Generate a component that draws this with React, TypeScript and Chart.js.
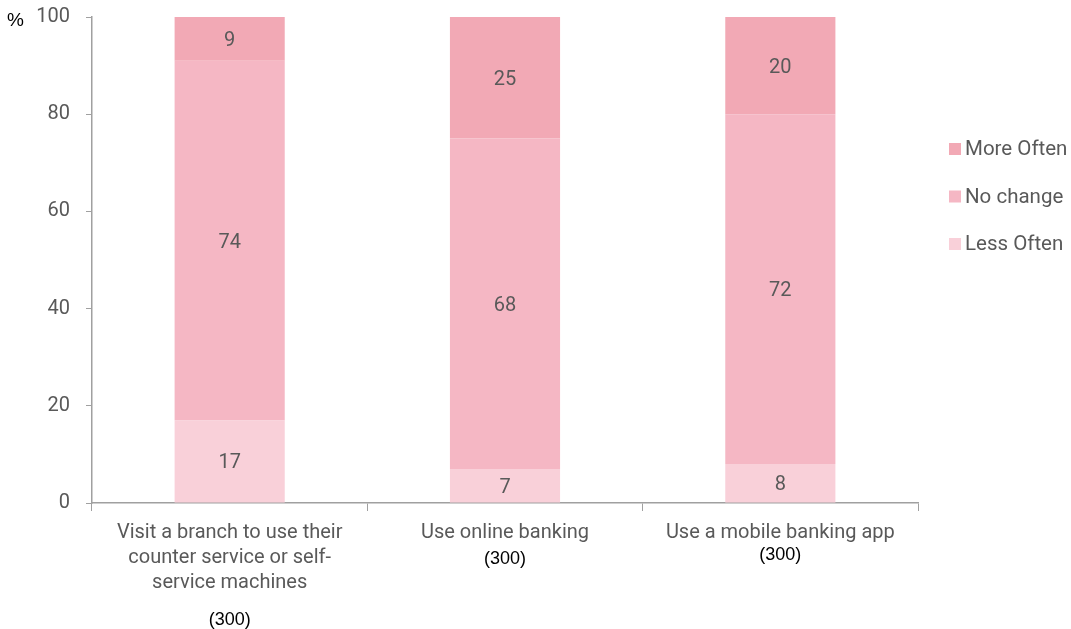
import React, { useEffect, useRef } from "react";
import { Chart, registerables } from "chart.js";

Chart.register(...registerables);

const categories: string[][] = [
  ["Visit a branch to use their", "counter service or self-", "service machines"],
  ["Use online banking"],
  ["Use a mobile banking app"],
];
const sampleSizes = ["(300)", "(300)", "(300)"];
const sampleGap = [39, 28, 24];

const lessOften = [17, 7, 8];
const noChange = [74, 68, 72];
const moreOften = [9, 25, 20];

const seriesNames = ["Less Often", "No change", "More Often"];
const seriesColors = ["#F9D0D9", "#F5B7C4", "#F2A9B5"];
const yTicks = [0, 20, 40, 60, 80, 100];

const TEXT = "#595959";
const AXIS = "#A0A0A0";
const FONT = "Roboto, 'Noto Sans', sans-serif";

export default function App() {
  const ref = useRef<HTMLCanvasElement | null>(null);

  useEffect(() => {
    if (!ref.current) return;
    const overlay = {
      id: "overlay",
      afterDatasetsDraw(chart: any) {
        const ctx = chart.ctx;
        ctx.save();
        // data labels
        ctx.font = `20px ${FONT}`;
        ctx.fillStyle = TEXT;
        ctx.textAlign = "center";
        ctx.textBaseline = "middle";
        chart.data.datasets.forEach((ds: any, di: number) => {
          const meta = chart.getDatasetMeta(di);
          meta.data.forEach((bar: any, i: number) => {
            const { x, y, base } = bar.getProps(["x", "y", "base"], true);
            ctx.fillText(String(ds.data[i]), x, (y + base) / 2 + 2);
          });
        });
        // "%" label
        ctx.fillStyle = "#000";
        ctx.textAlign = "left";
        ctx.font = `19px 'Liberation Sans', sans-serif`;
        ctx.fillText("%", 7, chart.chartArea.top + 4);
        // sample sizes
        const xs = chart.scales.x;
        ctx.font = `18px 'Liberation Sans', sans-serif`;
        ctx.textAlign = "center";
        categories.forEach((lines, i) => {
          const x = xs.getPixelForValue(i);
          const y = chart.chartArea.bottom + 28 + 25 * (lines.length - 1) + sampleGap[i];
          ctx.fillText(sampleSizes[i], x, y);
        });
        // legend
        ctx.font = `20.5px ${FONT}`;
        ctx.textAlign = "left";
        const lx = chart.chartArea.right + 31;
        const order = [2, 1, 0];
        order.forEach((si, k) => {
          const cy = chart.chartArea.top + 133 + k * 47.5;
          ctx.fillStyle = seriesColors[si];
          ctx.fillRect(lx, cy - 7, 12, 12);
          ctx.fillStyle = TEXT;
          ctx.fillText(seriesNames[si], lx + 16, cy);
        });
        ctx.restore();
      },
    };

    const chart = new Chart(ref.current, {
      type: "bar",
      data: {
        labels: categories as any,
        datasets: [lessOften, noChange, moreOften].map((d, i) => ({
          label: seriesNames[i],
          data: d,
          backgroundColor: seriesColors[i],
          borderWidth: 0,
          barPercentage: 0.4,
          categoryPercentage: 1,
        })),
      },
      options: {
        animation: false,
        responsive: false,
        maintainAspectRatio: false,
        layout: { padding: { top: 17, right: 153, left: 0, bottom: 0 } },
        plugins: { legend: { display: false }, tooltip: { enabled: false } },
        scales: {
          x: {
            stacked: true,
            grid: { drawOnChartArea: false, tickLength: 8, color: AXIS, offset: true },
            border: { color: AXIS, width: 1.5 },
            ticks: { color: TEXT, font: { family: FONT, size: 20, lineHeight: 25 / 20 }, padding: 9, maxRotation: 0, autoSkip: false },
            afterFit: (s: any) => { s.height = 126; s.paddingTop = 0; s.paddingBottom = 0; },
          },
          y: {
            stacked: true,
            min: 0,
            max: 100,
            afterBuildTicks: (s: any) => { s.ticks = yTicks.map((v) => ({ value: v })); },
            grid: { drawOnChartArea: false, tickLength: 6, color: AXIS },
            border: { color: AXIS, width: 1.5 },
            ticks: { color: TEXT, font: { family: FONT, size: 20 }, padding: 16 },
            afterFit: (s: any) => { s.width = 92; s.paddingTop = 0; s.paddingBottom = 0; },
          },
        },
      },
      plugins: [overlay],
    });
    return () => chart.destroy();
  }, []);

  return (
    <div style={{ position: "fixed", left: 0, top: 0, width: 1071, height: 629, background: "#fff" }}>
      <canvas ref={ref} width={1071} height={629} style={{ width: 1071, height: 629 }} />
    </div>
  );
}
